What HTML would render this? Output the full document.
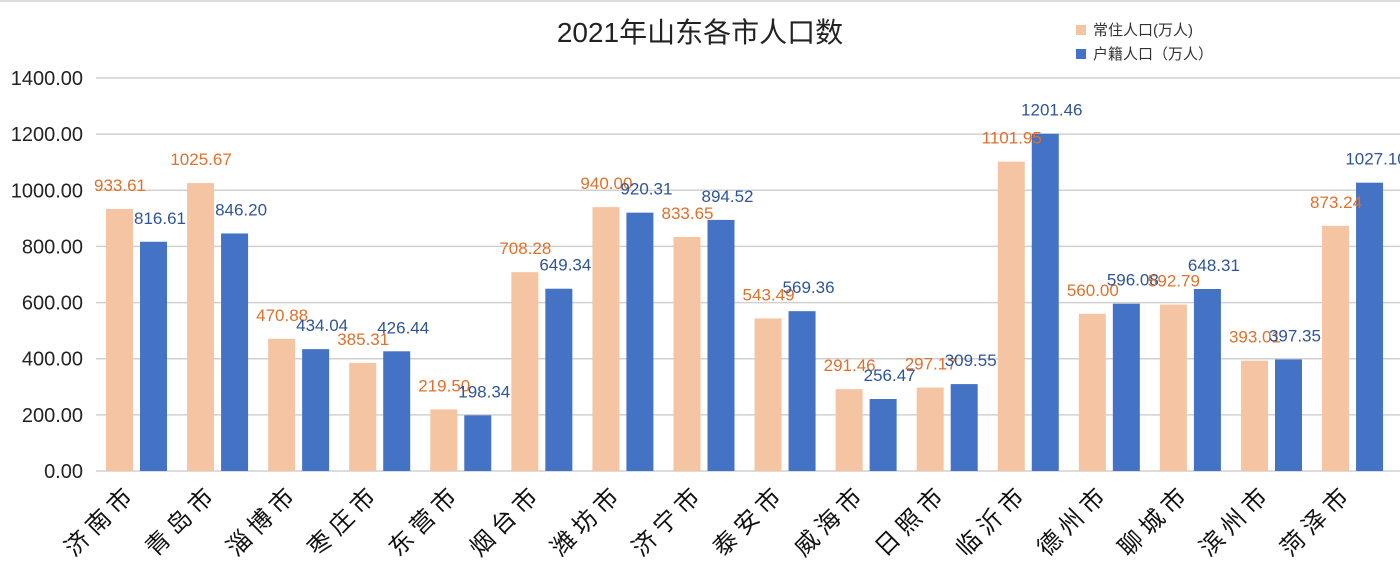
<!DOCTYPE html>
<html><head><meta charset="utf-8"><style>
body{margin:0;background:#fff;}
svg text{font-family:"Liberation Sans","Noto Sans CJK SC",sans-serif;}
</style></head><body>
<svg id="chart" width="1400" height="577" xmlns="http://www.w3.org/2000/svg">
<rect width="1400" height="577" fill="#fff"/>
<line x1="0" y1="1" x2="1400" y2="1" stroke="#ddd" stroke-width="2"/>
<text x="700" y="42" font-size="28" text-anchor="middle" fill="#222">2021年山东各市人口数</text>
<g>
<rect x="1076" y="25" width="10" height="10" fill="#f5c4a2"/>
<text x="1093" y="35" font-size="15" fill="#333">常住人口(万人)</text>
<rect x="1076" y="49" width="10" height="10" fill="#4472c4"/>
<text x="1093" y="59" font-size="15" fill="#333">户籍人口（万人）</text>
</g>
<g id="grid"></g><g id="bars"></g><g id="labels"></g>
</svg>
<script>
const categories=["济南市","青岛市","淄博市","枣庄市","东营市","烟台市","潍坊市","济宁市","泰安市","威海市","日照市","临沂市","德州市","聊城市","滨州市","菏泽市"];
const resident=[933.61,1025.67,470.88,385.31,219.50,708.28,940.00,833.65,543.49,291.46,297.17,1101.95,560.00,592.79,393.01,873.24];
const registered=[816.61,846.20,434.04,426.44,198.34,649.34,920.31,894.52,569.36,256.47,309.55,1201.46,596.08,648.31,397.35,1027.10];
const ticks=[0,200,400,600,800,1000,1200,1400];
const NS="http://www.w3.org/2000/svg";
const y0=471,yTop=78,vmax=1400;
function y(v){return y0-(v/vmax)*(y0-yTop);}
function xc(i){return 136+i*81.07;}
function mk(tag,attrs,parent,txt){const e=document.createElementNS(NS,tag);for(const k in attrs)e.setAttribute(k,attrs[k]);if(txt!==undefined)e.textContent=txt;parent.appendChild(e);return e;}
const grid=document.getElementById('grid'),bars=document.getElementById('bars'),labels=document.getElementById('labels');
ticks.forEach(t=>{
 const l=mk('line',{x1:96,x2:1400,y1:y(t),y2:y(t),stroke:'#d0d0d0','stroke-width':1.5},grid);
 
 
 const tx=mk('text',{x:83,y:y(t)+7,'font-size':20,'text-anchor':'end',fill:'#222'},grid,t.toFixed(2));
 
 
});
categories.forEach((c,i)=>{
 const cx=xc(i);
 const r=mk('rect',{x:cx-30,y:y(resident[i]),width:27,height:y0-y(resident[i]),fill:'#f5c4a2'},bars);
 
 
 const b=mk('rect',{x:cx+4,y:y(registered[i]),width:27,height:y0-y(registered[i]),fill:'#4472c4'},bars);
 
 
 const t1=mk('text',{x:cx-16,y:y(resident[i])-18,'font-size':17,'text-anchor':'middle',fill:'#e0702a'},labels,resident[i].toFixed(2));
 
 
 const t2=mk('text',{x:cx+24,y:y(registered[i])-18,'font-size':17,'text-anchor':'middle',fill:'#2f5597'},labels,registered[i].toFixed(2));
 
 
 const cl=mk('text',{x:cx+2,y:494,'font-size':24,'text-anchor':'end',fill:'#111','letter-spacing':'6',transform:`rotate(-45 ${cx+2} 494)`},labels,c);
 
 
});
</script>
</body></html>
